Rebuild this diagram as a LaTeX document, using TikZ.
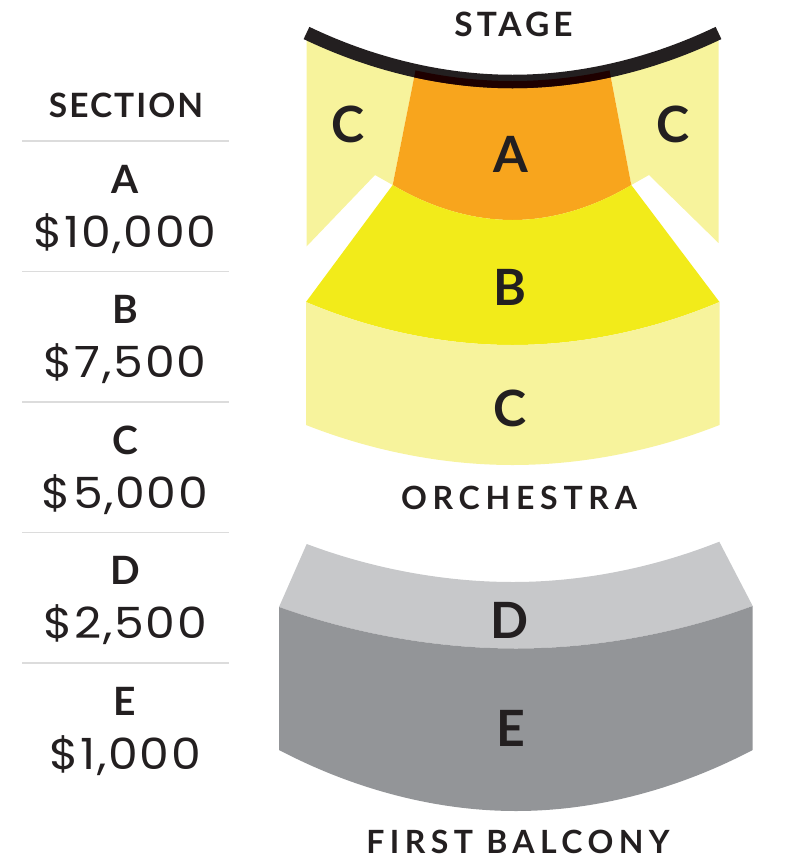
\documentclass[tikz,border=0pt]{standalone}
\usepackage{fontspec}
\newfontfamily\hdfont{Lato}
\newfontfamily\prfont{Poppins}[FakeStretch=1.1, LetterSpace=4]
\definecolor{ink}{HTML}{231F20}
\definecolor{inkA}{HTML}{1E0000}
\definecolor{secA}{HTML}{F8A51D}
\definecolor{secB}{HTML}{F2EB1A}
\definecolor{secC}{HTML}{F7F39C}
\definecolor{secD}{HTML}{C7C8CA}
\definecolor{secE}{HTML}{939598}
\definecolor{rule}{HTML}{DCDCDC}
\begin{document}
\begin{tikzpicture}[x=1pt,y=-1pt,
  heading/.style={text=ink, inner sep=0pt, anchor=base, font=\hdfont\bfseries\addfontfeatures{LetterSpace=#1}\fontsize{33.5}{40}\selectfont},
  spheading/.style={text=ink, inner sep=0pt, anchor=base, font=\hdfont\bfseries\addfontfeatures{LetterSpace=#1}\fontsize{32}{38}\selectfont},
  rowletter/.style={text=ink, inner sep=0pt, anchor=base, font=\hdfont\bfseries\fontsize{39}{46}\selectfont},
  price/.style={text=ink, inner sep=0pt, anchor=base, font=\prfont\fontsize{43}{50}\selectfont},
  maplabel/.style={text=ink, inner sep=0pt, anchor=base, font=\hdfont\bfseries\fontsize{50}{60}\selectfont},
  rowrule/.style={draw=rule, line width=1.5pt},
  band/.style={draw=ink, line width=13.5pt, line cap=butt}
]
\useasboundingbox (0,0) rectangle (789,868);

% ---------- Orchestra ----------
% upper side C sections
\fill[secC] (306.5,33) -- (415.5,70.4) -- (392.7,185) -- (375,175) -- (306.5,246.5) -- cycle;
\fill[secC] (718.5,33) -- (609.5,70.4) -- (631.3,185) -- (649,175) -- (718.5,243) -- cycle;
% A
\fill[secA] (415.5,70.4) parabola bend (512.5,81) (609.5,70.4) -- (631.3,185)
  parabola bend (512.5,220) (392.7,185) -- cycle;
% B
\fill[secB] (392.7,185) parabola bend (512.5,220) (631.3,185) -- (719.5,302)
  parabola bend (512.5,345) (306,302) -- cycle;
% lower C
\fill[secC] (306,302) parabola bend (512.5,345) (719.5,302) -- (719.5,425)
  parabola bend (512.5,465) (306,425) -- cycle;

% stage band
\draw[band] (306.5,33) parabola bend (512.5,81.5) (718.5,33);
\begin{scope}
  \clip (415.5,70.4) parabola bend (512.5,81) (609.5,70.4) -- (631.3,185)
    parabola bend (512.5,220) (392.7,185) -- cycle;
  \draw[band, draw=inkA] (306.5,33) parabola bend (512.5,81.5) (718.5,33);
\end{scope}

% ---------- First balcony ----------
\fill[secD] (306.7,544) parabola bend (513,582) (719.3,541.7) -- (752.7,606)
  parabola bend (516,648.5) (279,607) -- cycle;
\fill[secE] (279,607) parabola bend (516,648.5) (752.7,606) -- (752.7,750)
  parabola bend (516,811) (279,750) -- cycle;

% ---------- map labels ----------
\node[heading=12] (stage) at (513.5,36.7) {STAGE};
\node[maplabel] (lA) at (510.5,172.7) {A};
\node[maplabel] (lCl) at (348.3,142.8) {C};
\node[maplabel] (lCr) at (673.3,142.8) {C};
\node[maplabel] (lB) at (510,305) {B};
\node[maplabel] (lC) at (510,426.5) {C};
\node[spheading=18] (orch) at (519,509.3) {ORCHESTRA};
\node[maplabel] (lD) at (510,638) {D};
\node[maplabel] (lE) at (510.5,746) {E};
\node[spheading=17] (balc) at (518,853) {FIRST BALCONY};

% ---------- price table ----------
\node[heading=6] (section) at (126,117) {SECTION};
\coordinate (r1l) at (22,141);  \coordinate (r1r) at (229,141);
\coordinate (r2l) at (22,271.5);\coordinate (r2r) at (229,271.5);
\coordinate (r3l) at (22,402);  \coordinate (r3r) at (229,402);
\coordinate (r4l) at (22,532.5);\coordinate (r4r) at (229,532.5);
\coordinate (r5l) at (22,663);  \coordinate (r5r) at (229,663);
\draw[rowrule] (r1l) -- (r1r);
\draw[rowrule] (r2l) -- (r2r);
\draw[rowrule] (r3l) -- (r3r);
\draw[rowrule] (r4l) -- (r4r);
\draw[rowrule] (r5l) -- (r5r);

\node[rowletter] (tA) at (125,193) {A};
\node[price] (pA) at (125,247) {\$10,000};
\node[rowletter] (tB) at (125,323.5) {B};
\node[price] (pB) at (125,377.5) {\$7,500};
\node[rowletter] (tC) at (125,454) {C};
\node[price] (pC) at (125,508) {\$5,000};
\node[rowletter] (tD) at (125,584.5) {D};
\node[price] (pD) at (125,638.5) {\$2,500};
\node[rowletter] (tE) at (125,715) {E};
\node[price] (pE) at (125,769) {\$1,000};
\end{tikzpicture}
\end{document}
